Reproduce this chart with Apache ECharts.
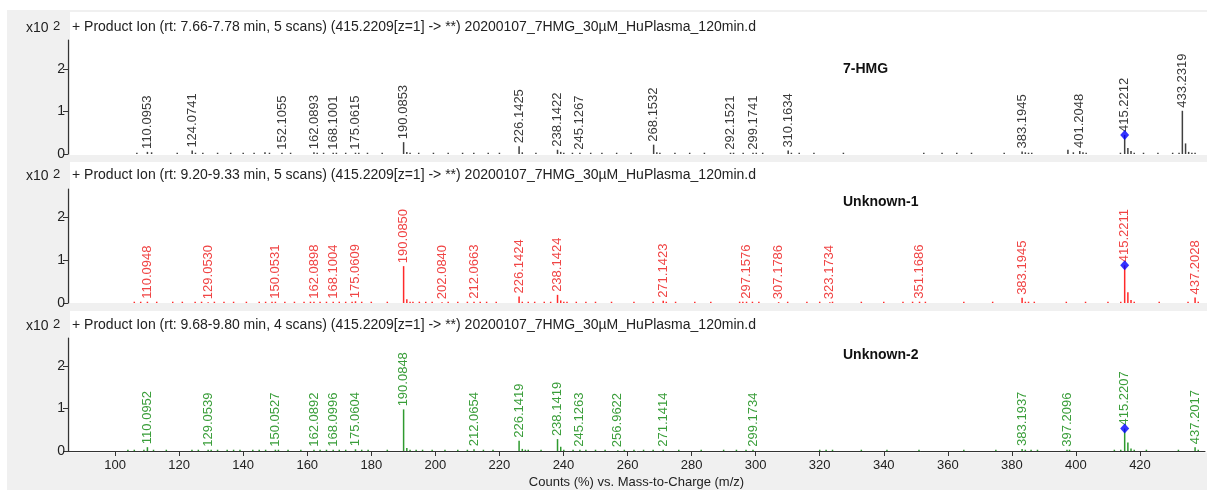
<!DOCTYPE html>
<html>
<head>
<meta charset="utf-8">
<script src="https://cdn.jsdelivr.net/npm/echarts@6/dist/echarts.min.js"></script>
<style>
html,body{margin:0;padding:0;background:#fff;}
#chart{width:1207px;height:490px;}
</style>
</head>
<body>
<div id="chart"></div>
<script>
// ---------- data ----------
const xTickValues = [100,120,140,160,180,200,220,240,260,280,300,320,340,360,380,400,420];
const yTickValues = [0,1,2];
const xAxisTitle = 'Counts (%) vs. Mass-to-Charge (m/z)';
const panelTitles = [
  '+ Product Ion (rt: 7.66-7.78 min, 5 scans) (415.2209[z=1] -> **) 20200107_7HMG_30\u00b5M_HuPlasma_120min.d',
  '+ Product Ion (rt: 9.20-9.33 min, 5 scans) (415.2209[z=1] -> **) 20200107_7HMG_30\u00b5M_HuPlasma_120min.d',
  '+ Product Ion (rt: 9.68-9.80 min, 4 scans) (415.2209[z=1] -> **) 20200107_7HMG_30\u00b5M_HuPlasma_120min.d'
];
const panelNames = ['7-HMG', 'Unknown-1', 'Unknown-2'];

// labelled peaks [m/z, counts x10^2]
const hmgPeaks = [
  [110.0953,0.05],[124.0741,0.08],[152.1055,0.03],[162.0893,0.04],[168.1001,0.03],[175.0615,0.03],
  [190.0853,0.28],[226.1425,0.18],[238.1422,0.10],[245.1267,0.03],[268.1532,0.22],[292.1521,0.03],
  [299.1741,0.03],[310.1634,0.08],[383.1945,0.06],[401.2048,0.07],[415.2212,0.45],[433.2319,1.02]
];
const hmgMinor = [
  [106.8,0.03],[111.4,0.04],[119.4,0.03],[125.1,0.03],[127.4,0.03],[132.0,0.03],[136.1,0.03],[140.0,0.03],
  [143.4,0.03],[146.8,0.04],[148.2,0.03],[154.8,0.03],[163.1,0.03],[165.1,0.03],[169.1,0.03],[172.0,0.03],
  [176.1,0.03],[178.8,0.03],[183.4,0.03],[191.09,0.05],[192.1,0.03],[194.8,0.03],[199.4,0.03],[204.0,0.03],
  [208.5,0.03],[212.0,0.03],[216.5,0.03],[220.0,0.03],[227.14,0.04],[231.4,0.03],[239.14,0.05],[240.1,0.03],
  [242.8,0.03],[248.5,0.03],[252.0,0.03],[256.6,0.03],[261.1,0.03],[269.15,0.04],[270.1,0.03],[274.8,0.03],
  [279.4,0.03],[284.0,0.03],[293.1,0.03],[296.1,0.03],[300.2,0.03],[302.2,0.03],[311.16,0.03],[313.6,0.03],
  [318.2,0.03],[327.4,0.03],[352.5,0.03],[358.2,0.03],[362.8,0.03],[367.4,0.03],[377.6,0.03],[384.2,0.04],
  [385.2,0.03],[386.2,0.03],[397.5,0.10],[399.2,0.04],[402.2,0.04],[403.2,0.03],[413.9,0.03],[416.22,0.14],
  [417.2,0.07],[418.2,0.03],[421.1,0.03],[425.6,0.03],[430.2,0.03],[432.2,0.03],[434.23,0.25],[435.2,0.05],
  [436.2,0.03],[437.2,0.03]
];
const hmgPrecursor = [[415.2212,0.45]];

const unk1Peaks = [
  [110.0948,0.03],[129.0530,0.02],[150.0531,0.03],[162.0898,0.03],[168.1004,0.03],[175.0609,0.04],
  [190.0850,0.86],[202.0840,0.02],[212.0663,0.03],[226.1424,0.15],[238.1424,0.19],[271.1423,0.05],
  [297.1576,0.03],[307.1786,0.02],[323.1734,0.02],[351.1686,0.03],[383.1945,0.12],[415.2211,0.88],
  [437.2028,0.13]
];
const unk1Minor = [
  [106.0,0.03],[108.0,0.03],[113.0,0.03],[118.0,0.03],[121.0,0.03],[125.0,0.03],[127.0,0.03],[131.0,0.03],
  [134.0,0.03],[137.0,0.03],[141.0,0.03],[145.0,0.03],[147.0,0.03],[149.0,0.03],[153.0,0.03],[156.0,0.03],
  [159.0,0.03],[161.0,0.03],[164.0,0.03],[166.0,0.03],[170.0,0.03],[172.0,0.03],[174.0,0.03],[177.0,0.03],
  [180.0,0.03],[185.0,0.03],[191.09,0.09],[192.1,0.03],[193.0,0.03],[195.0,0.03],[197.0,0.03],[199.0,0.03],
  [204.0,0.03],[207.0,0.03],[210.0,0.03],[214.0,0.03],[216.0,0.03],[219.0,0.03],[227.14,0.03],[229.0,0.03],
  [231.0,0.03],[234.0,0.03],[236.0,0.03],[239.14,0.06],[240.1,0.03],[241.1,0.03],[244.0,0.03],[247.0,0.03],
  [250.0,0.03],[255.0,0.03],[262.0,0.03],[268.0,0.03],[272.1,0.03],[275.0,0.03],[281.0,0.03],[286.0,0.03],
  [295.0,0.03],[296.0,0.03],[299.0,0.03],[301.0,0.03],[310.0,0.03],[316.0,0.03],[320.0,0.03],[324.0,0.03],
  [333.0,0.03],[340.0,0.03],[346.0,0.03],[349.0,0.03],[353.0,0.03],[365.0,0.03],[374.0,0.03],[384.2,0.03],
  [385.2,0.03],[387.0,0.03],[397.0,0.03],[403.0,0.03],[410.0,0.03],[414.0,0.03],[416.22,0.25],[417.2,0.07],
  [418.2,0.03],[426.0,0.03],[435.0,0.03],[438.2,0.03]
];
const unk1Precursor = [[415.2211,0.88]];

const unk2Peaks = [
  [110.0952,0.09],[129.0539,0.03],[150.0527,0.03],[162.0892,0.03],[168.0996,0.03],[175.0604,0.04],
  [190.0848,0.98],[212.0654,0.04],[226.1419,0.24],[238.1419,0.28],[245.1263,0.03],[256.9622,0.02],
  [271.1414,0.03],[299.1734,0.03],[383.1937,0.05],[397.2096,0.03],[415.2207,0.53],[437.2017,0.09]
];
const unk2Minor = [
  [104.0,0.03],[106.0,0.03],[109.0,0.03],[112.0,0.03],[116.0,0.03],[124.0,0.03],[126.0,0.03],[130.0,0.03],
  [132.0,0.03],[135.0,0.03],[137.0,0.03],[139.0,0.03],[143.0,0.03],[145.0,0.03],[147.0,0.03],[151.0,0.03],
  [154.0,0.03],[158.0,0.03],[164.0,0.03],[166.0,0.03],[170.0,0.03],[172.0,0.03],[177.0,0.03],[179.0,0.03],
  [185.0,0.03],[191.09,0.07],[192.1,0.03],[194.0,0.03],[196.0,0.03],[199.0,0.03],[203.0,0.03],[207.0,0.03],
  [210.0,0.03],[215.0,0.03],[218.0,0.03],[227.14,0.05],[228.1,0.03],[229.0,0.03],[233.0,0.03],[239.14,0.10],
  [240.1,0.03],[243.0,0.03],[247.0,0.03],[250.0,0.03],[253.0,0.03],[259.0,0.03],[262.0,0.03],[265.0,0.03],
  [268.0,0.03],[276.0,0.03],[283.0,0.03],[290.0,0.03],[294.0,0.03],[297.0,0.03],[320.0,0.03],[322.0,0.03],
  [324.0,0.03],[333.0,0.03],[341.0,0.03],[351.0,0.03],[365.0,0.03],[375.0,0.03],[384.2,0.03],[386.0,0.03],
  [388.0,0.03],[398.0,0.03],[412.0,0.03],[414.0,0.03],[416.22,0.20],[417.2,0.06],[418.2,0.03],[422.0,0.03],
  [432.0,0.03],[438.2,0.03]
];
const unk2Precursor = [[415.2207,0.53]];

// ---------- chart ----------
const FONT = '"Liberation Sans", Arial, sans-serif';
const XMIN = 85.3, XMAX = 440.3;
const panels = [
  {peaks: hmgPeaks, minor: hmgMinor, prec: hmgPrecursor, top: 40, height: 114, ymax: 2.69,
   bar: '#404040', label: '#3a3a3a'},
  {peaks: unk1Peaks, minor: unk1Minor, prec: unk1Precursor, top: 189, height: 114, ymax: 2.66,
   bar: '#ff2a2a', label: '#f04444'},
  {peaks: unk2Peaks, minor: unk2Minor, prec: unk2Precursor, top: 338, height: 114.5, ymax: 2.66,
   bar: '#2e9a2e', label: '#3a9e3a'}
];
const titleY = [27, 175, 325];
const nameY = [69, 202, 355];

const grids = [], xAxes = [], yAxes = [], series = [];
panels.forEach((p, i) => {
  grids.push({left: 68, top: p.top, width: 1137, height: p.height, containLabel: false});
  const last = i === 2;
  xAxes.push({
    type: 'value', gridIndex: i, min: XMIN, max: XMAX,
    splitLine: {show: false},
    axisLine: {show: last, onZero: false, lineStyle: {color: '#333', width: 1}},
    axisTick: {show: last, length: 5, customValues: xTickValues, lineStyle: {color: '#333'}},
    axisLabel: {show: last, customValues: xTickValues, fontSize: 13, color: '#222', fontFamily: FONT, margin: 8},
    name: last ? xAxisTitle : '', nameLocation: 'middle', nameGap: 25,
    nameTextStyle: {fontSize: 13, color: '#222', fontFamily: FONT}
  });
  yAxes.push({
    type: 'value', gridIndex: i, min: 0, max: p.ymax,
    splitLine: {show: false},
    axisLine: {show: true, lineStyle: {color: '#333', width: 1.2}},
    axisTick: {show: true, length: 5, customValues: yTickValues, lineStyle: {color: '#333'}},
    axisLabel: {customValues: yTickValues, fontSize: 14, color: '#222', fontFamily: FONT, margin: 3}
  });
  series.push({
    type: 'bar', xAxisIndex: i, yAxisIndex: i, data: p.minor, barWidth: 1.5, barGap: '-100%',
    itemStyle: {color: p.bar}, silent: true, animation: false
  });
  series.push({
    type: 'bar', xAxisIndex: i, yAxisIndex: i, data: p.peaks, barWidth: 1.5, barGap: '-100%',
    itemStyle: {color: p.bar}, animation: false,
    label: {
      show: true, position: 'top', rotate: 90, align: 'left', verticalAlign: 'middle', distance: 3,
      fontSize: 13, color: p.label, fontFamily: FONT,
      formatter: d => d.value[0].toFixed(4)
    }
  });
  series.push({
    type: 'scatter', xAxisIndex: i, yAxisIndex: i, data: p.prec, symbol: 'diamond', symbolSize: [9, 10],
    itemStyle: {color: '#0000ff'}, animation: false, z: 5
  });
});

const graphics = [
  {type: 'rect', shape: {x: 7, y: 10, width: 1200, height: 480}, style: {fill: '#f0f0f0'}, z: -10},
  {type: 'rect', shape: {x: 70, y: 12, width: 1137, height: 143}, style: {fill: '#ffffff'}, z: -9},
  {type: 'rect', shape: {x: 70, y: 162, width: 1137, height: 141}, style: {fill: '#ffffff'}, z: -9},
  {type: 'rect', shape: {x: 70, y: 311, width: 1137, height: 141.5}, style: {fill: '#ffffff'}, z: -9}
];
panelTitles.forEach((t, i) => {
  graphics.push({type: 'text', x: 26, y: titleY[i] + 1, style: {text: 'x10', fill: '#222', font: '14px ' + FONT, verticalAlign: 'middle'}});
  graphics.push({type: 'text', x: 53, y: titleY[i] - 1, style: {text: '2', fill: '#222', font: '13px ' + FONT, verticalAlign: 'middle'}});
  graphics.push({type: 'text', x: 72, y: titleY[i], style: {text: t, fill: '#222', font: '14px ' + FONT, verticalAlign: 'middle'}});
  graphics.push({type: 'text', x: 843, y: nameY[i], style: {text: panelNames[i], fill: '#111', font: 'bold 14px ' + FONT, verticalAlign: 'middle'}});
});

const chart = echarts.init(document.getElementById('chart'), null, {renderer: 'canvas'});
chart.setOption({
  animation: false,
  backgroundColor: '#ffffff',
  grid: grids, xAxis: xAxes, yAxis: yAxes, series: series,
  graphic: graphics
});
</script>
</body>
</html>
